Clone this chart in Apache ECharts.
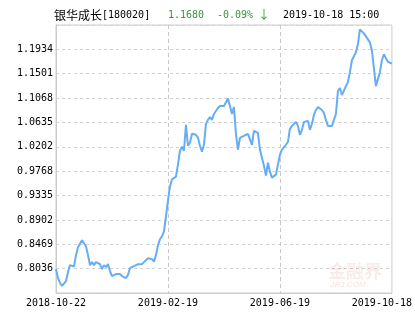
<!DOCTYPE html>
<html>
<head>
<meta charset="utf-8">
<script src="https://cdn.jsdelivr.net/npm/echarts@6/dist/echarts.min.js"></script>
<style>
html,body{margin:0;padding:0;background:#fff;}
#c{width:415px;height:330px;}
</style>
</head>
<body>
<div id="c"></div>
<script>
// ---- data ----
var fundName = '银华成长';
var fundCode = '[180020]';
var lastNav = '1.1680';
var lastChange = '-0.09%';
var changeArrow = '↓';
var lastTime = '2019-10-18 15:00';

var xLabels = ['2018-10-22', '2019-02-19', '2019-06-19', '2019-10-18'];
var xLabelIndex = [0, 56, 112, 168];

var yMin = 0.7603;
var yMax = 1.2366;
var yStep = 0.0433;
var yTickLabels = ['', '0.8036', '0.8469', '0.8902', '0.9335', '0.9768', '1.0202', '1.0635', '1.1068', '1.1501', '1.1934', ''];

var nav = [
0.8028,0.7869,0.7781,0.7728,0.7710,0.7816,0.7975,0.8099,0.8116,0.8072,
0.8276,0.8417,0.8452,0.8541,0.8558,0.8434,0.8276,0.8099,0.8152,0.8099,
0.8152,0.8187,0.8116,0.8028,0.8099,0.8063,0.8116,0.7993,0.7904,0.7869,
0.7940,0.7975,0.7940,0.7904,0.7887,0.7869,0.7922,0.8046,0.8063,0.8081,
0.8081,0.8116,0.8108,0.8116,0.8152,0.8187,0.8222,0.8231,0.8205,0.8161,
0.8276,0.8452,0.8558,0.8611,0.8700,0.8965,0.9248,0.9495,0.9619,0.9601,
0.9672,0.9884,1.0131,1.0202,1.0131,1.0591,1.0220,1.0273,1.0432,1.0449,
1.0414,1.0361,1.0220,1.0114,1.0237,1.0608,1.0679,1.0732,1.0679,1.0785,
1.0838,1.0891,1.0927,1.0927,1.0927,1.0962,1.1059,1.0927,1.0785,1.0909,
1.0432,1.0149,1.0361,1.0343,1.0396,1.0361,1.0432,1.0414,1.0237,1.0485,
1.0502,1.0449,1.0149,1.0008,0.9866,0.9689,0.9919,0.9760,0.9654,0.9645,
0.9707,0.9884,1.0061,1.0149,1.0131,1.0237,1.0290,1.0520,1.0573,1.0591,
1.0644,1.0573,1.0414,1.0502,1.0644,1.0644,1.0661,1.0502,1.0608,1.0768,
1.0856,1.0909,1.0891,1.0856,1.0803,1.0679,1.0573,1.0564,1.0573,1.0608,
1.0785,1.1192,1.1245,1.1121,1.1086,1.1280,1.1351,1.1527,1.1740,1.1810,
1.1881,1.2022,1.2287,1.2270,1.2217,1.2164,1.2199,1.2058,1.1916,1.1598,
1.1280,1.1404,1.1527,1.1740,1.1846,1.1775,1.1713,1.1713,1.1680
];

// ---- chart ----
var categories = nav.map(function (v, i) { return i; });
var monoFont = '"DejaVu Sans Mono", "Liberation Mono", monospace';
var cjkFont = '"Noto Sans CJK SC", sans-serif';
var green = '#3a963a';
var lineColor = '#66adf2';

var chart = echarts.init(document.getElementById('c'), null, { renderer: 'canvas' });
chart.setOption({
  animation: false,
  backgroundColor: '#fff',
  grid: { left: 56, right: 23, top: 25, bottom: 37, show: true, borderColor: '#cccccc', borderWidth: 1, containLabel: false },
  xAxis: {
    type: 'category',
    data: categories,
    boundaryGap: false,
    axisLine: { show: true, lineStyle: { color: '#cccccc', width: 1 } },
    axisTick: { show: false },
    axisLabel: {
      interval: function (idx) { return xLabelIndex.indexOf(idx) >= 0; },
      formatter: function (val, idx) {
        var k = xLabelIndex.indexOf(Number(val));
        if (k < 0) return '';
        if (k === xLabels.length - 1) return '{r|' + xLabels[k] + '}';
        return xLabels[k];
      },
      rich: { r: { padding: [0, 20, 0, 0], fontFamily: monoFont, fontSize: 10, color: '#000' } },
      color: '#000', fontFamily: monoFont, fontSize: 10, margin: 5,
      showMinLabel: true, showMaxLabel: true, hideOverlap: false
    },
    splitLine: {
      show: true,
      interval: function (idx) { return idx > 0 && idx < nav.length - 1 && xLabelIndex.indexOf(idx) >= 0; },
      lineStyle: { color: '#c8c8c8', type: [4, 3], width: 1 }
    }
  },
  yAxis: {
    type: 'value',
    min: yMin,
    max: yMax,
    interval: yStep,
    axisLine: { show: true, lineStyle: { color: '#cccccc', width: 1 } },
    axisTick: { show: false },
    axisLabel: {
      formatter: function (v) {
        var k = Math.round((v - yMin) / yStep);
        return yTickLabels[k] || '';
      },
      color: '#000', fontFamily: monoFont, fontSize: 10, margin: 3
    },
    splitLine: { show: true, lineStyle: { color: '#d2d2d2', type: [3, 3], width: 1 } }
  },
  series: [{
    type: 'line',
    data: nav,
    showSymbol: false,
    symbol: 'none',
    lineStyle: { color: lineColor, width: 2 },
    itemStyle: { color: lineColor }
  }],
  graphic: [
    { type: 'text', left: 54, top: 9, z: 10, style: { text: fundName, font: '12px ' + cjkFont, fill: '#000' } },
    { type: 'text', left: 102, top: 10, z: 10, style: { text: fundCode, font: '10px ' + monoFont, fill: '#000' } },
    { type: 'text', left: 168, top: 10, z: 10, style: { text: lastNav, font: '10px ' + monoFont, fill: green } },
    { type: 'text', left: 217, top: 10, z: 10, style: { text: lastChange, font: '10px ' + monoFont, fill: green } },
    { type: 'text', left: 258, top: 8, z: 10, style: { text: changeArrow, font: '12px ' + cjkFont, fill: green } },
    { type: 'text', left: 283, top: 10, z: 10, style: { text: lastTime, font: '10px ' + monoFont, fill: '#000' } },
    { type: 'text', left: 328, top: 262, z: 1, style: { text: '金融界', font: 'bold 18px ' + cjkFont, fill: 'rgba(210,60,60,0.10)' } },
    { type: 'text', left: 330, top: 281, z: 1, style: { text: 'JRJ.COM', font: 'italic bold 8px sans-serif', fill: 'rgba(210,60,60,0.12)' } }
  ]
});
</script>
</body>
</html>
